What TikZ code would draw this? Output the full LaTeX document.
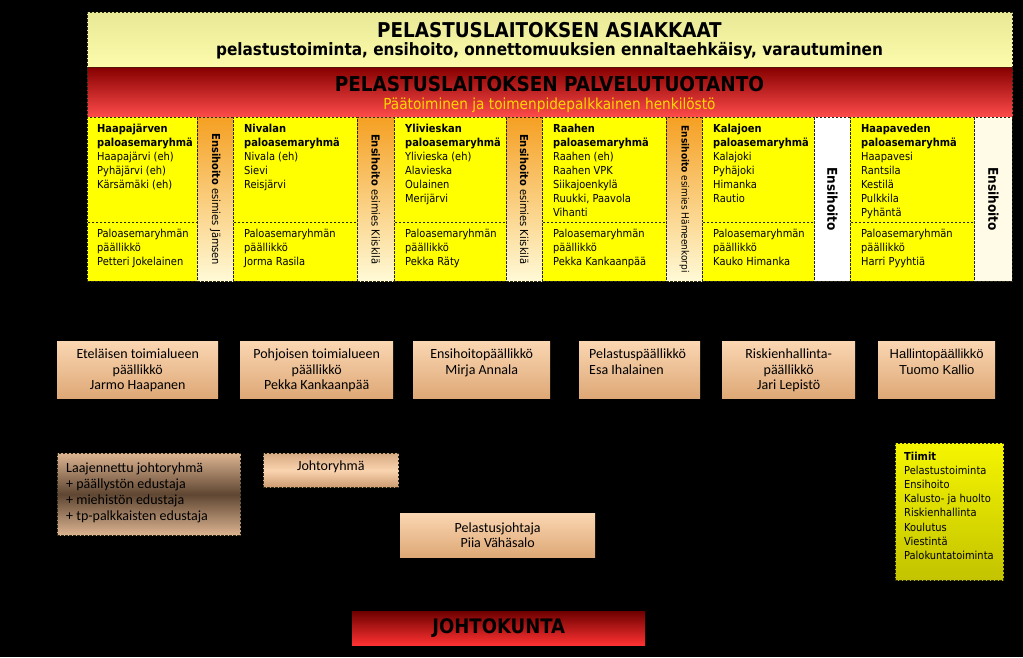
\documentclass[tikz,border=0pt]{standalone}
\usepackage{fontspec}
\setmainfont{DejaVu Sans Condensed}
\newfontfamily\calfont{Carlito}
\newfontfamily\arialfont{Liberation Sans}
\begin{document}
\begin{tikzpicture}[x=1pt,y=-1pt,
  box/.style={draw={rgb,255:red,40;green,40;blue,20}, dash pattern=on 2.5pt off 1.5pt, line width=0.6pt, inner sep=0pt, anchor=north west},
  plain/.style={draw=none, inner sep=0pt, anchor=north west},
  yel/.style={box, fill={rgb,255:red,255;green,255;blue,0}},
  strip/.style={box, top color={rgb,255:red,245;green,160;blue,35}, bottom color={rgb,255:red,255;green,250;blue,215}, minimum width=36pt, minimum height=164pt},
  wstrip/.style={box, fill=white, minimum width=36pt, minimum height=164pt},
  tan/.style={plain, top color={rgb,255:red,250;green,214;blue,178}, bottom color={rgb,255:red,222;green,168;blue,118}},
  ctxt/.style={inner sep=0pt, anchor=north west, align=left, font=\fontsize{11}{14}\selectfont},
  mtxt/.style={inner sep=0pt, anchor=north, align=center, font=\calfont\fontsize{14}{15.5}\selectfont},
  vtxt/.style={inner sep=0pt, rotate=-90, font=\fontsize{11}{12}\selectfont}
]
\useasboundingbox (0,0) rectangle (1023,657);
\fill[black] (0,0) rectangle (1023,657);

% top boxes
\node[box, top color={rgb,255:red,232;green,232;blue,150}, bottom color={rgb,255:red,252;green,252;blue,172}, minimum width=925pt, minimum height=55pt] (asiak) at (87,12) {};
\node[inner sep=0pt, font=\bfseries\fontsize{20.4}{22}\selectfont] (asiakT) at (549.5,30) {PELASTUSLAITOKSEN ASIAKKAAT};
\node[inner sep=0pt, font=\bfseries\fontsize{17}{19}\selectfont] (asiakS) at (549.5,51) {pelastustoiminta, ensihoito, onnettomuuksien ennaltaehkäisy, varautuminen};

\node[box, top color={rgb,255:red,135;green,0;blue,0}, bottom color={rgb,255:red,255;green,75;blue,75}, minimum width=925pt, minimum height=50pt] (palv) at (87,67) {};
\node[inner sep=0pt, font=\bfseries\fontsize{20.5}{22}\selectfont] (palvT) at (549.5,84) {PELASTUSLAITOKSEN PALVELUTUOTANTO};
\node[inner sep=0pt, text={rgb,255:red,255;green,215;blue,0}, font=\fontsize{15.2}{16}\selectfont] (palvS) at (549.5,105) {Päätoiminen ja toimenpidepalkkainen henkilöstö};

% column 1
\node[yel, minimum width=110pt, minimum height=105pt] (c1u) at (87,117) {};
\node[yel, minimum width=110pt, minimum height=59pt] (c1l) at (87,222) {};
\node[ctxt] (c1ut) at (97,124) {\textbf{Haapajärven}\\\textbf{paloasemaryhmä}\\Haapajärvi (eh)\\Pyhäjärvi (eh)\\Kärsämäki (eh)};
\node[ctxt] (c1lt) at (97,229) {Paloasemaryhmän\\päällikkö\\Petteri Jokelainen};
\node[strip] (s1) at (197,117) {};
\node[vtxt] (s1t) at (s1.center) {\textbf{Ensihoito} esimies Jämsen};

% column 2
\node[yel, minimum width=124pt, minimum height=105pt] (c2u) at (233,117) {};
\node[yel, minimum width=124pt, minimum height=59pt] (c2l) at (233,222) {};
\node[ctxt] (c2ut) at (244,124) {\textbf{Nivalan}\\\textbf{paloasemaryhmä}\\Nivala (eh)\\Sievi\\Reisjärvi};
\node[ctxt] (c2lt) at (244,229) {Paloasemaryhmän\\päällikkö\\Jorma Rasila};
\node[strip, minimum width=37pt] (s2) at (357,117) {};
\node[vtxt] (s2t) at (s2.center) {\textbf{Ensihoito} esimies Kiiskilä};

% column 3
\node[yel, minimum width=112pt, minimum height=105pt] (c3u) at (394,117) {};
\node[yel, minimum width=112pt, minimum height=59pt] (c3l) at (394,222) {};
\node[ctxt] (c3ut) at (405,124) {\textbf{Ylivieskan}\\\textbf{paloasemaryhmä}\\Ylivieska (eh)\\Alavieska\\Oulainen\\Merijärvi};
\node[ctxt] (c3lt) at (405,229) {Paloasemaryhmän\\päällikkö\\Pekka Räty};
\node[strip] (s3) at (506,117) {};
\node[vtxt] (s3t) at (s3.center) {\textbf{Ensihoito} esimies Kiiskilä};

% column 4
\node[yel, minimum width=124pt, minimum height=105pt] (c4u) at (542,117) {};
\node[yel, minimum width=124pt, minimum height=59pt] (c4l) at (542,222) {};
\node[ctxt] (c4ut) at (553,124) {\textbf{Raahen}\\\textbf{paloasemaryhmä}\\Raahen (eh)\\Raahen VPK\\Siikajoenkylä\\Ruukki, Paavola\\Vihanti};
\node[ctxt] (c4lt) at (553,229) {Paloasemaryhmän\\päällikkö\\Pekka Kankaanpää};
\node[strip] (s4) at (666,117) {};
\node[vtxt, font=\fontsize{10}{12}\selectfont] (s4t) at (s4.center) {\textbf{Ensihoito} esimies Hämeenkorpi};

% column 5
\node[yel, minimum width=112pt, minimum height=105pt] (c5u) at (702,117) {};
\node[yel, minimum width=112pt, minimum height=59pt] (c5l) at (702,222) {};
\node[ctxt] (c5ut) at (713,124) {\textbf{Kalajoen}\\\textbf{paloasemaryhmä}\\Kalajoki\\Pyhäjoki\\Himanka\\Rautio};
\node[ctxt] (c5lt) at (713,229) {Paloasemaryhmän\\päällikkö\\Kauko Himanka};
\node[wstrip] (s5) at (814,117) {};
\node[vtxt, font=\bfseries\fontsize{13.5}{15}\selectfont] (s5t) at (s5.center) {Ensihoito};

% column 6
\node[yel, minimum width=124pt, minimum height=105pt] (c6u) at (850,117) {};
\node[yel, minimum width=124pt, minimum height=59pt] (c6l) at (850,222) {};
\node[ctxt] (c6ut) at (861,124) {\textbf{Haapaveden}\\\textbf{paloasemaryhmä}\\Haapavesi\\Rantsila\\Kestilä\\Pulkkila\\Pyhäntä};
\node[ctxt] (c6lt) at (861,229) {Paloasemaryhmän\\päällikkö\\Harri Pyyhtiä};
\node[wstrip, fill={rgb,255:red,255;green,251;blue,230}, minimum width=38pt] (s6) at (974,117) {};
\node[vtxt, font=\bfseries\fontsize{13.5}{15}\selectfont] (s6t) at (s6.center) {Ensihoito};

% middle row
\node[tan, minimum width=161pt, minimum height=57pt] (b1) at (57,341) {};
\node[mtxt] (b1t) at ([yshift=-8pt]b1.north) {Eteläisen toimialueen\\päällikkö\\Jarmo Haapanen};
\node[tan, minimum width=153pt, minimum height=57pt] (b2) at (240,341) {};
\node[mtxt] (b2t) at ([yshift=-8pt]b2.north) {Pohjoisen toimialueen\\päällikkö\\Pekka Kankaanpää};
\node[tan, minimum width=137pt, minimum height=57pt] (b3) at (413,341) {};
\node[mtxt] (b3t) at ([yshift=-8pt]b3.north) {Ensihoitopäällikkö\\Mirja Annala};
\node[tan, minimum width=121pt, minimum height=57pt] (b4) at (579,341) {};
\node[mtxt, anchor=north west, align=left] (b4t) at ([xshift=10pt,yshift=-8pt]b4.north west) {Pelastuspäällikkö\\Esa Ihalainen};
\node[tan, minimum width=133pt, minimum height=57pt] (b5) at (722,341) {};
\node[mtxt] (b5t) at ([yshift=-8pt]b5.north) {Riskienhallinta-\\päällikkö\\Jari Lepistö};
\node[tan, minimum width=117pt, minimum height=57pt] (b6) at (878,341) {};
\node[mtxt, font=\arialfont\fontsize{13}{15.5}\selectfont] (b6t) at ([yshift=-8pt]b6.north) {Hallintopäällikkö\\Tuomo Kallio};

% bottom area
\node[box, top color={rgb,255:red,220;green,180;blue,145}, bottom color={rgb,255:red,220;green,180;blue,145}, middle color={rgb,255:red,95;green,70;blue,50}, minimum width=183pt, minimum height=82pt] (laaj) at (57,453) {};
\node[mtxt, anchor=north west, align=left, font=\calfont\fontsize{14}{16}\selectfont] (laajt) at ([xshift=9pt,yshift=-10pt]laaj.north west) {Laajennettu johtoryhmä\\+ päällystön edustaja\\+ miehistön edustaja\\+ tp-palkkaisten edustaja};

\node[box, top color={rgb,255:red,215;green,170;blue,130}, bottom color={rgb,255:red,205;green,155;blue,112}, middle color={rgb,255:red,250;green,212;blue,175}, minimum width=135pt, minimum height=34pt] (johto) at (263,453) {};
\node[mtxt, anchor=center] (johtot) at ([yshift=4pt]johto.center) {Johtoryhmä};

\node[tan, minimum width=195pt, minimum height=44pt] (pj) at (400,513) {};
\node[mtxt, anchor=center] (pjt) at (pj.center) {Pelastusjohtaja\\Piia Vähäsalo};

\node[box, top color={rgb,255:red,245;green,245;blue,0}, bottom color={rgb,255:red,195;green,195;blue,0}, minimum width=108pt, minimum height=137pt] (tiimit) at (895,443) {};
\node[ctxt, font=\fontsize{11}{14.1}\selectfont] (tiimitt) at ([xshift=9pt,yshift=-9pt]tiimit.north west) {\textbf{Tiimit}\\Pelastustoiminta\\Ensihoito\\Kalusto- ja huolto\\Riskienhallinta\\Koulutus\\Viestintä\\Palokuntatoiminta};

\node[plain, top color={rgb,255:red,110;green,0;blue,0}, bottom color={rgb,255:red,255;green,50;blue,50}, minimum width=293pt, minimum height=34pt] (jk) at (352,611) {};
\node[inner sep=0pt, font=\bfseries\fontsize{20}{22}\selectfont] (jkt) at (jk.center) {JOHTOKUNTA};
\end{tikzpicture}
\end{document}
